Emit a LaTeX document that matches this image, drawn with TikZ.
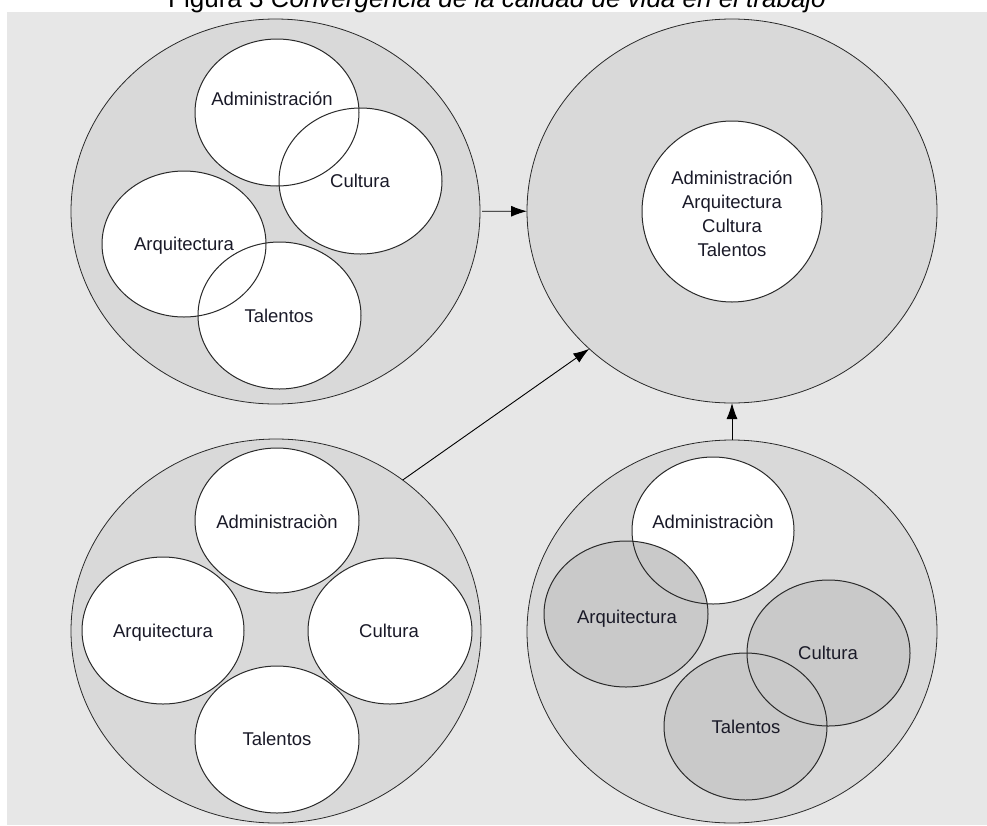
\documentclass[tikz,border=0pt]{standalone}
\usepackage{fontspec}
\setmainfont{Liberation Sans}
\usetikzlibrary{shapes.geometric,arrows.meta,calc}
\definecolor{panelbg}{HTML}{E7E7E7}
\definecolor{outerfill}{HTML}{D9D9D9}
\definecolor{innergray}{HTML}{C9C9C9}
\definecolor{linecol}{HTML}{2A2A2A}
\definecolor{textcol}{HTML}{1A1A28}
\begin{document}
\begin{tikzpicture}[x=1pt,y=-1pt,
  outer/.style={ellipse,draw=linecol,line width=0.8pt,fill=outerfill,inner sep=0pt,outer sep=0pt},
  inner/.style={ellipse,inner sep=0pt,outer sep=0pt,fill=white},
  ringline/.style={draw=linecol,line width=1pt},
  lbl/.style={anchor=base,font=\fontsize{18.5}{24}\selectfont,text=textcol,inner sep=0pt},
  arr/.style={draw=black,line width=0.9pt,-{Latex[length=16pt,width=11pt]}}]
\useasboundingbox (0,0) rectangle (987,825);
\clip (0,0) rectangle (987,825);
\fill[panelbg] (7,12) rectangle (987,825);
\node[anchor=base west,font=\fontsize{26}{30}\selectfont,inner sep=0pt] (title) at (168,7)
  {Figura 3 \textit{Convergencia de la calidad de vida en el trabajo}};
% outer circles
\node[outer,minimum width=409pt,minimum height=385pt] (A) at (275.5,211.5) {};
\node[outer,minimum width=410pt,minimum height=384pt] (B) at (732,211) {};
\node[outer,minimum width=410pt,minimum height=384pt] (C) at (276,631) {};
\node[outer,minimum width=410pt,minimum height=383pt] (D) at (732,631.5) {};
% inner fills
\node[inner,minimum width=164pt,minimum height=147pt] (a1) at (277,112.5) {};
\node[inner,minimum width=163pt,minimum height=146pt] (a2) at (360.5,181) {};
\node[inner,minimum width=164pt,minimum height=146pt] (a3) at (184,244) {};
\node[inner,minimum width=163pt,minimum height=147pt] (a4) at (279.5,315.5) {};
\node[inner,minimum width=180pt,minimum height=181pt] (b1) at (732,211.5) {};
\node[inner,minimum width=164pt,minimum height=145pt] (c1) at (277,520.5) {};
\node[inner,minimum width=162pt,minimum height=147pt] (c2) at (163,630.5) {};
\node[inner,minimum width=164pt,minimum height=146pt] (c3) at (390,631) {};
\node[inner,minimum width=164pt,minimum height=147pt] (c4) at (277,739.5) {};
\node[inner,minimum width=162pt,minimum height=147pt] (d1) at (713,530.5) {};
\node[inner,fill=innergray,minimum width=164pt,minimum height=146pt] (d2) at (626,614) {};
\node[inner,fill=innergray,minimum width=163pt,minimum height=146pt] (d3) at (828.5,653) {};
\node[inner,fill=innergray,minimum width=163pt,minimum height=147pt] (d4) at (745.5,726.5) {};
% outlines of inner circles, drawn over all fills
\foreach \nm in {a1,a2,a3,a4,b1,c1,c2,c3,c4,d1,d2,d3,d4}
  \draw[ringline] let \p1=(\nm.east), \p2=(\nm.north), \p3=(\nm.center) in
    (\p3) ellipse [x radius={\x1-\x3}, y radius={\y2-\y3}];
% labels
\node[lbl] (ta1) at (272,105.7) {Administración};
\node[lbl] (ta2) at (360,187.7) {Cultura};
\node[lbl] (ta3) at (184,250.7) {Arquitectura};
\node[lbl] (ta4) at (279,322.7) {Talentos};
\node[lbl] (tb1) at (732,184.7) {\begin{tabular}[t]{@{}c@{}}Administración\\Arquitectura\\Cultura\\Talentos\end{tabular}};
\node[lbl] (tc1) at (277,528.7) {Administraciòn};
\node[lbl] (tc2) at (163,637.7) {Arquitectura};
\node[lbl] (tc3) at (389,637.7) {Cultura};
\node[lbl] (tc4) at (277,745.7) {Talentos};
\node[lbl] (td1) at (713,528.7) {Administraciòn};
\node[lbl] (td2) at (627,623.7) {Arquitectura};
\node[lbl] (td3) at (828,659.7) {Cultura};
\node[lbl] (td4) at (746,733.7) {Talentos};
% arrows
\draw[arr,shorten <=2pt] (A) -- (B);
\draw[arr] (C.50) -- (B.224.4);
\draw[arr] (D.north) -- (B.south);
\end{tikzpicture}
\end{document}
